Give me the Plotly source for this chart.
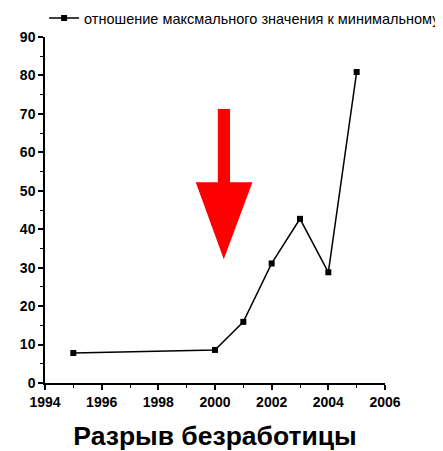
import plotly.graph_objects as go

years = [1995, 2000, 2001, 2002, 2003, 2004, 2005]
ratio = [7.8, 8.6, 15.9, 31.1, 42.7, 28.8, 80.9]
series_name = "отношение максмального значения к минимальному"
x_title = "Разрыв безработицы"

sans = "Liberation Sans, Arial, sans-serif"

fig = go.Figure()
fig.add_trace(go.Scatter(
    x=years, y=ratio, mode="lines+markers", name=series_name,
    line=dict(color="black", width=1.5),
    marker=dict(symbol="square", size=6, color="black"),
))

# red down arrow
fig.add_shape(
    type="path",
    path="M 2000.10 71.3 L 2000.53 71.3 L 2000.53 52.2 L 2001.32 52.2 L 2000.31 32.2 "
         "L 1999.32 52.2 L 2000.10 52.2 Z",
    xref="x", yref="y", fillcolor="#ff0000", line=dict(width=0),
)

axis_common = dict(
    showgrid=False, zeroline=False, showline=True, linecolor="black", linewidth=1.5,
    ticks="outside", tickcolor="black", tickwidth=1.5, ticklen=5,
    tickfont=dict(family=sans, size=14, color="black", weight="bold"),
    automargin=False,
)

# page body has an 8px margin: figure sized/positioned to compensate
fig.update_layout(
    width=435, height=443,
    margin=dict(l=37, r=58, t=29, b=68, autoexpand=False),
    plot_bgcolor="white", paper_bgcolor="white",
    showlegend=True,
    legend=dict(xref="container", yref="container",
                x=0.083, y=0.977, xanchor="left", yanchor="middle",
                font=dict(family=sans, size=14.5, color="black"),
                bgcolor="rgba(0,0,0,0)", itemwidth=30,
                tracegroupgap=0, borderwidth=0),
    xaxis=dict(range=[1994, 2006], dtick=2, tick0=1994,
               minor=dict(ticks="outside", ticklen=3, tickcolor="black", tickwidth=1, dtick=1),
               title=dict(text=x_title, font=dict(family=sans, size=26.5, color="black", weight="bold"),
                          standoff=19),
               **axis_common),
    yaxis=dict(range=[0, 90], dtick=10, tick0=0,
               minor=dict(ticks="outside", ticklen=3, tickcolor="black", tickwidth=1, dtick=5),
               **axis_common),
)

fig.write_html("out.html")
